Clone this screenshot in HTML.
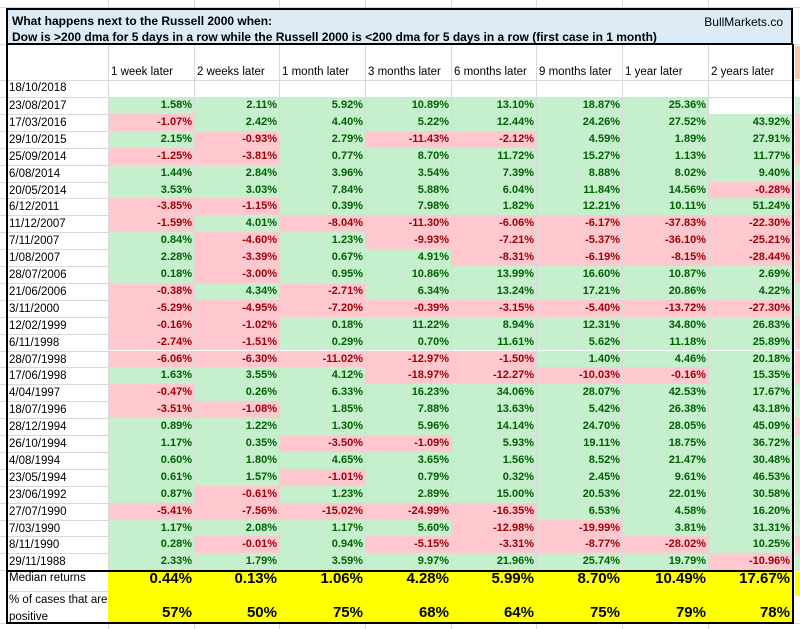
<!DOCTYPE html>
<html><head><meta charset="utf-8"><style>
body{margin:0;width:800px;height:629px;overflow:hidden;background:#fff;font-family:"Liberation Sans",sans-serif;position:relative}
.c{position:absolute;box-sizing:border-box;font-size:11px;white-space:nowrap;overflow:hidden}
.g{position:absolute;background:#d9d9d9}
</style></head><body>
<div id="root"></div>
<script>
const dates=["23/08/2017","17/03/2016","29/10/2015","25/09/2014","6/08/2014","20/05/2014","6/12/2011","11/12/2007","7/11/2007","1/08/2007","28/07/2006","21/06/2006","3/11/2000","12/02/1999","6/11/1998","28/07/1998","17/06/1998","4/04/1997","18/07/1996","28/12/1994","26/10/1994","4/08/1994","23/05/1994","23/06/1992","27/07/1990","7/03/1990","8/11/1990","29/11/1988"];
const headers=["1 week later","2 weeks later","1 month later","3 months later","6 months later","9 months later","1 year later","2 years later"];
const values=[
[1.58,2.11,5.92,10.89,13.10,18.87,25.36,null],
[-1.07,2.42,4.40,5.22,12.44,24.26,27.52,43.92],
[2.15,-0.93,2.79,-11.43,-2.12,4.59,1.89,27.91],
[-1.25,-3.81,0.77,8.70,11.72,15.27,1.13,11.77],
[1.44,2.84,3.96,3.54,7.39,8.88,8.02,9.40],
[3.53,3.03,7.84,5.88,6.04,11.84,14.56,-0.28],
[-3.85,-1.15,0.39,7.98,1.82,12.21,10.11,51.24],
[-1.59,4.01,-8.04,-11.30,-6.06,-6.17,-37.83,-22.30],
[0.84,-4.60,1.23,-9.93,-7.21,-5.37,-36.10,-25.21],
[2.28,-3.39,0.67,4.91,-8.31,-6.19,-8.15,-28.44],
[0.18,-3.00,0.95,10.86,13.99,16.60,10.87,2.69],
[-0.38,4.34,-2.71,6.34,13.24,17.21,20.86,4.22],
[-5.29,-4.95,-7.20,-0.39,-3.15,-5.40,-13.72,-27.30],
[-0.16,-1.02,0.18,11.22,8.94,12.31,34.80,26.83],
[-2.74,-1.51,0.29,0.70,11.61,5.62,11.18,25.89],
[-6.06,-6.30,-11.02,-12.97,-1.50,1.40,4.46,20.18],
[1.63,3.55,4.12,-18.97,-12.27,-10.03,-0.16,15.35],
[-0.47,0.26,6.33,16.23,34.06,28.07,42.53,17.67],
[-3.51,-1.08,1.85,7.88,13.63,5.42,26.38,43.18],
[0.89,1.22,1.30,5.96,14.14,24.70,28.05,45.09],
[1.17,0.35,-3.50,-1.09,5.93,19.11,18.75,36.72],
[0.60,1.80,4.65,3.65,1.56,8.52,21.47,30.48],
[0.61,1.57,-1.01,0.79,0.32,2.45,9.61,46.53],
[0.87,-0.61,1.23,2.89,15.00,20.53,22.01,30.58],
[-5.41,-7.56,-15.02,-24.99,-16.35,6.53,4.58,16.20],
[1.17,2.08,1.17,5.60,-12.98,-19.99,3.81,31.31],
[0.28,-0.01,0.94,-5.15,-3.31,-8.77,-28.02,10.25],
[2.33,1.79,3.59,9.97,21.96,25.74,19.79,-10.96]];
const medians=["0.44%","0.13%","1.06%","4.28%","5.99%","8.70%","10.49%","17.67%"];
const positives=["57%","50%","75%","68%","64%","75%","79%","78%"];
const extraCol=[1,0,0,0,1,0,0,0,0,0,0,1,1,0,0,0,0,1,1,0,1,1,1,1,1,1,0,1];

const root=document.getElementById('root');
const colX=[108,194,279,365,451,536,622,708,792];
const top0=97, rh=16.9;
function div(css,cls){const d=document.createElement('div');d.className=cls||'c';Object.assign(d.style,css);root.appendChild(d);return d;}
for(let x of [108,194,279,365,451,536,622,708]){const g=div({left:x+'px',top:'0px',width:'1px',height:'629px'},'g');}
for(let i=0;i<=29;i++){const y=top0+(i-1)*rh;const g=div({left:'0px',top:Math.round(y)+'px',width:'800px',height:'1px'},'g');}
div({left:'0',top:'7px',width:'800px',height:'1px'},'g');
div({left:'0',top:'44px',width:'800px',height:'1px'},'g');
div({left:'0',top:'623px',width:'800px',height:'1px'},'g');
const t=div({left:'6px',top:'8px',width:'787px',height:'37px',background:'#ddebf7',border:'2px solid #000',fontWeight:'bold',fontSize:'12px',padding:'3px 0 0 4px',lineHeight:'16px'});

t.innerHTML='What happens next to the Russell 2000 when:<br>Dow is &gt;200 dma for 5 days in a row while the Russell 2000 is &lt;200 dma for 5 days in a row (first case in 1 month)<span style="position:absolute;right:8px;top:4px;font-weight:normal;font-size:12px">BullMarkets.co</span>';
const b=div({left:'6px',top:'44px',width:'788px',height:'580px',borderLeft:'2px solid #000',borderRight:'2px solid #000',borderBottom:'2px solid #000'});

headers.forEach((h,j)=>{const d=div({left:(colX[j]+3)+'px',top:'66px',width:(colX[j+1]-colX[j]-3)+'px',height:'16px',fontSize:'11.5px'});d.textContent=h;
});
const d0=div({left:'9px',top:'82px',fontSize:'11.5px'});d0.textContent='18/10/2018';
const eh=div({left:'795px',top:'46px',width:'5px',height:'33px',background:'#f8cbad'});
dates.forEach((dt,i)=>{
 const y=top0+i*rh;
 const dl=div({left:'9px',top:(y+1)+'px',height:'16px',lineHeight:'16px',fontSize:'11.5px'});dl.textContent=dt;
 
 values[i].forEach((v,j)=>{
  if(v===null)return;
  const pos=v>=0;
  const c=div({left:(colX[j]+1)+'px',top:Math.round(y)+'px',width:(colX[j+1]-colX[j]-1)+'px',height:(Math.round(y+rh)-Math.round(y))+'px',background:pos?'#c6efce':'#ffc7ce',color:pos?'#006100':'#9c0006',textAlign:'right',paddingRight:'2px',lineHeight:'17px',fontWeight:'bold'});
  c.textContent=v.toFixed(2)+'%';
  
 });
 const ex=div({left:'795px',top:Math.round(y)+'px',width:'5px',height:(Math.round(y+rh)-Math.round(y))+'px',background:extraCol[i]?'#c6efce':'#ffc7ce'});
 
});
const sy=top0+28*rh;
const sb=div({left:'8px',top:Math.round(sy)+'px',width:'784px',height:'2px',background:'#000'});
const yb=div({left:'108px',top:(Math.round(sy)+2)+'px',width:'684px',height:(622-Math.round(sy)-2)+'px',background:'#ffff00'});
const ey=div({left:'795px',top:(Math.round(sy)+2)+'px',width:'5px',height:'24px',background:'#ffff00'});
const ml=div({left:'9px',top:'572px',fontSize:'11.5px'});ml.textContent='Median returns';
const pl=div({left:'9px',top:'592px',fontSize:'11.5px',lineHeight:'17px',whiteSpace:'normal',width:'100px'});pl.innerHTML='% of cases that are<br>positive';
const sg=div({left:'8px',top:'591px',width:'100px',height:'1px'},'g');
medians.forEach((m,j)=>{const d=div({left:colX[j]+'px',top:'570px',width:(colX[j+1]-colX[j])+'px',textAlign:'right',paddingRight:'2px',fontWeight:'bold',fontSize:'15px'});d.textContent=m;});
positives.forEach((m,j)=>{const d=div({left:colX[j]+'px',top:'604px',width:(colX[j+1]-colX[j])+'px',textAlign:'right',paddingRight:'2px',fontWeight:'bold',fontSize:'15px'});d.textContent=m;});
</script>
</body></html>
